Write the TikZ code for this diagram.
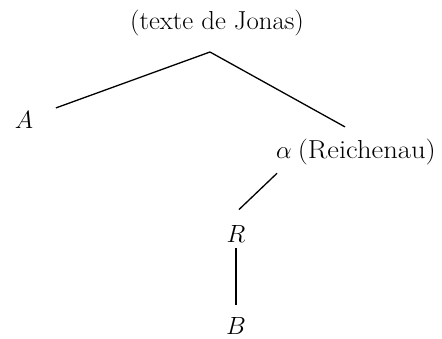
\documentclass[tikz,border=0pt]{standalone}
\usepackage{graphicx}
\begin{document}
\begin{tikzpicture}[x=1pt,y=-1pt,
  lbl/.style={inner sep=0pt,font=\fontsize{26}{30}\selectfont},
  edge/.style={line width=1.3pt}]
\useasboundingbox (0,0) rectangle (442,338);
% stemma nodes
\coordinate (top) at (210,52);
\node[lbl,anchor=base] (title) at (217,29) {\scalebox{1.03}[1]{(texte de Jonas)}};
\node[lbl,anchor=base] (A) at (24,128) {$A$};
\node[lbl,anchor=base west] (rei) at (276,158) {$\alpha$\hspace{6pt}\scalebox{1.1}[1]{(Reichenau)}};
\node[lbl,anchor=base] (R) at (236,242) {$R$};
\node[lbl,anchor=base] (B) at (236,334) {$B$};
% branches
\draw[edge,shorten >=24pt] (top) -- (A);
\draw[edge,shorten >=23.5pt] (top) -- ([xshift=89.6pt]rei.north west);
\draw[edge,shorten <=12.4pt,shorten >=22pt] ([xshift=10pt]rei.south west) -- ([xshift=-13pt]R.north);
\draw[edge,shorten <=6pt,shorten >=12pt] (R) -- (B);
\end{tikzpicture}
\end{document}
